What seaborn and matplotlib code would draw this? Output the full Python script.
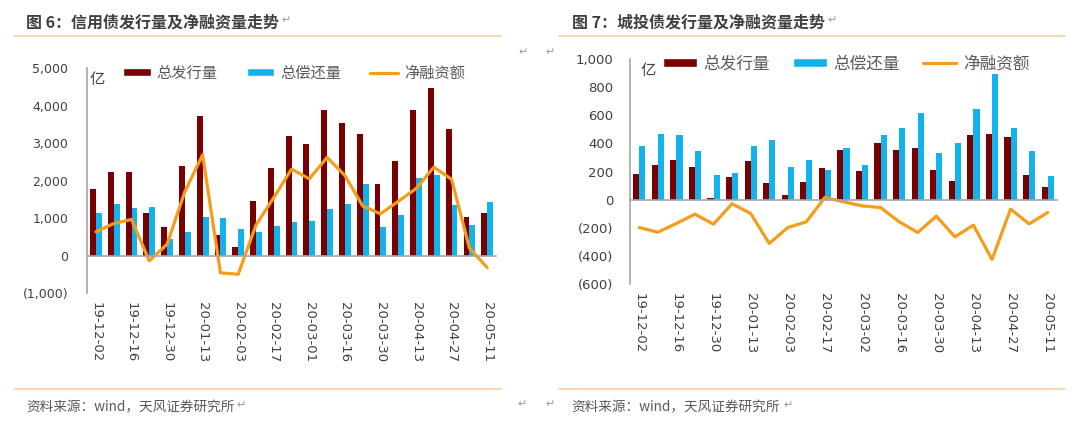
import numpy as np
import pandas as pd
import seaborn as sns
import matplotlib.pyplot as plt
from matplotlib.patches import Patch
from matplotlib.lines import Line2D
from matplotlib.ticker import FuncFormatter

# Data (unit: 亿)
dates_credit = ["19-12-02", "19-12-09", "19-12-16", "19-12-23", "19-12-30", "20-01-06",
                "20-01-13", "20-01-20", "20-02-03", "20-02-10", "20-02-17", "20-02-24",
                "20-03-01", "20-03-09", "20-03-16", "20-03-23", "20-03-30", "20-04-06",
                "20-04-13", "20-04-20", "20-04-27", "20-05-04", "20-05-11"]
issue_credit = [1770, 2230, 2230, 1150, 765, 2385, 3730, 550, 240, 1460, 2340, 3180,
                2990, 3870, 3530, 3240, 1900, 2530, 3870, 4480, 3370, 1040, 1130]
repay_credit = [1150, 1380, 1270, 1300, 445, 640, 1040, 1020, 720, 640, 790, 890,
                930, 1260, 1390, 1910, 780, 1080, 2080, 2140, 1350, 830, 1440]
net_credit = [640, 860, 970, -130, 310, 1710, 2690, -450, -490, 820, 1550, 2310,
              2050, 2620, 2140, 1330, 1120, 1450, 1790, 2360, 2040, 210, -310]

dates_city = ["19-12-02", "19-12-09", "19-12-16", "19-12-23", "19-12-30", "20-01-06",
              "20-01-13", "20-01-20", "20-02-03", "20-02-10", "20-02-17", "20-02-24",
              "20-03-02", "20-03-09", "20-03-16", "20-03-23", "20-03-30", "20-04-06",
              "20-04-13", "20-04-20", "20-04-27", "20-05-04", "20-05-11"]
issue_city = [185, 246, 284, 235, 12, 161, 277, 116, 31, 128, 223, 353,
              204, 400, 353, 370, 211, 135, 457, 469, 443, 173, 88]
repay_city = [381, 469, 457, 346, 175, 190, 381, 427, 230, 284, 211, 365,
              246, 457, 507, 614, 334, 400, 642, 893, 512, 346, 171]
net_city = [-197, -230, -168, -102, -173, -28, -97, -310, -197, -156, 17, -14,
            -43, -55, -156, -232, -116, -263, -180, -424, -66, -171, -90]

kinds = ["总发行量", "总偿还量"]
line_name = "净融资额"

RED = "#780000"
BLUE = "#14B2EC"
ORANGE = "#F59D1B"
GREY = "#A6A6A6"
TXT = "#404040"

sns.set_style("white")
plt.rcParams["font.family"] = ["Noto Sans CJK SC", "DejaVu Sans"]


def fmt(v, pos):
    if v < 0:
        return f"({abs(v):,.0f})"
    return f"{v:,.0f}"


def draw_panel(ax, dates, issue, repay, net, ylim, ystep, tick_fs, ypad, leg_fs, leg_kw,
               unit_xy, leg_xy):
    n = len(dates)
    df = pd.DataFrame({
        "date": dates * 2,
        "value": issue + repay,
        "kind": [kinds[0]] * n + [kinds[1]] * n,
    })
    sns.barplot(data=df, x="date", y="value", hue="kind", hue_order=kinds,
                palette=[RED, BLUE], width=0.66, errorbar=None, saturation=1,
                legend=False, linewidth=0, ax=ax)
    sns.lineplot(x=np.arange(n), y=net, color=ORANGE, linewidth=2.3, ax=ax)

    ax.set_xlim(-0.5, n - 0.5)
    ax.set_ylim(*ylim)
    ax.set_yticks(np.arange(ylim[0], ylim[1] + 1, ystep))
    ax.yaxis.set_major_formatter(FuncFormatter(fmt))
    ax.set_xlabel("")
    ax.set_ylabel("")

    for s in ["top", "right"]:
        ax.spines[s].set_visible(False)
    ax.spines["left"].set_color(GREY)
    ax.spines["left"].set_linewidth(1.2)
    ax.spines["bottom"].set_position(("data", 0))
    ax.spines["bottom"].set_color(GREY)
    ax.spines["bottom"].set_linewidth(1.2)

    ax.set_xticks([])
    ax.set_xticks(np.arange(n + 1) - 0.5, minor=True)
    ax.tick_params(axis="x", which="minor", length=3, width=1, color=GREY,
                   direction="out", labelbottom=False)
    ax.tick_params(axis="y", length=3, width=1, color=GREY, direction="out",
                   labelsize=tick_fs, labelcolor=TXT, pad=ypad)
    for lab in ax.get_yticklabels():
        lab.set_family("DejaVu Sans")

    # date labels sit at the bottom of the plot area
    sec = ax.secondary_xaxis(0.0)
    pos = np.arange(n)[::2]
    sec.set_xticks(pos, [dates[i] for i in pos], rotation=270, fontsize=9.5,
                   color=TXT, family="DejaVu Sans")
    sec.tick_params(length=0, pad=6)
    sec.spines["bottom"].set_visible(False)

    ax.text(unit_xy[0], unit_xy[1], "亿", transform=ax.transAxes, fontsize=11,
            color=TXT, ha="center", va="center")

    handles = [Patch(facecolor=RED), Patch(facecolor=BLUE),
               Line2D([], [], color=ORANGE, lw=2.3)]
    ax.legend(handles, kinds + [line_name], loc="center", bbox_to_anchor=leg_xy,
              ncol=3, frameon=False, fontsize=leg_fs, labelcolor="#595959",
              handleheight=0.5, handletextpad=0.4, borderpad=0, **leg_kw)


fig = plt.figure(figsize=(10.8, 4.21), dpi=100)

ax1 = fig.add_axes([0.0806, 0.3029, 0.3787, 0.5356])
draw_panel(ax1, dates_credit, issue_credit, repay_credit, net_credit,
           (-1000, 5000), 1000, 9, 10.5, 11,
           dict(handlelength=1.8, columnspacing=1.9), (0.024, 0.951), (0.506, 0.978))

ax2 = fig.add_axes([0.5833, 0.3247, 0.3954, 0.5352])
draw_panel(ax2, dates_city, issue_city, repay_city, net_city,
           (-600, 1000), 200, 9.5, 9, 12,
           dict(handlelength=2.0, columnspacing=1.4), (0.042, 0.947), (0.507, 0.978))

# document framing: titles, rules, source notes
W, H = 1080, 421
LINE_C = "#F4CBA3"


def fx(px):
    return px / W


def fy(py):
    return 1 - py / H


fig.text(fx(26), fy(22.5), "图 6：信用债发行量及净融资量走势", fontsize=11.5,
         fontweight="bold", color=TXT, va="center", ha="left")
fig.text(fx(572), fy(22.5), "图 7：城投债发行量及净融资量走势", fontsize=11.5,
         fontweight="bold", color=TXT, va="center", ha="left")
fig.text(fx(26), fy(407.5), "资料来源：wind，天风证券研究所", fontsize=9.8,
         color="#595959", va="center", ha="left")
fig.text(fx(571), fy(407.5), "资料来源：wind，天风证券研究所", fontsize=9.8,
         color="#595959", va="center", ha="left")

for x, y in [(281, 20), (827, 20), (236, 405), (783, 405),
             (518, 52), (545, 52), (517, 404), (545, 404)]:
    fig.text(fx(x), fy(y), "↵", fontsize=8, color="#9A9A9A", va="center",
             ha="left", family=["DejaVu Sans"])

for x0, x1 in [(14, 501), (559, 1065)]:
    for y in [36, 389]:
        fig.add_artist(Line2D([fx(x0), fx(x1)], [fy(y), fy(y)], color=LINE_C,
                              lw=1.1, transform=fig.transFigure))

fig.savefig("out.png", dpi=100, facecolor="white")
